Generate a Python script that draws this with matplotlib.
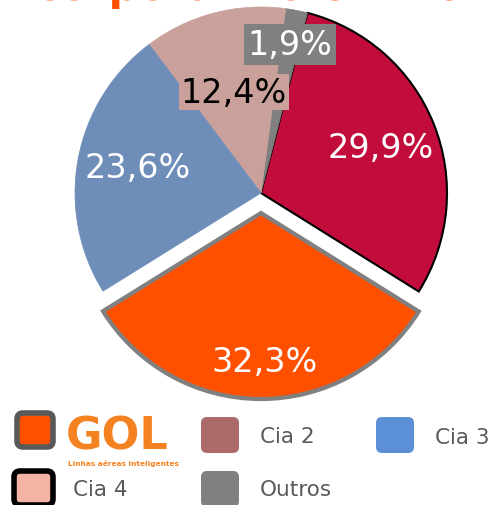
import matplotlib
matplotlib.use('Agg')
import matplotlib.pyplot as plt
from matplotlib.patches import FancyBboxPatch

# Slice data, counter-clockwise starting from GOL
labels = ['GOL', 'Cia 2', 'Outros', 'Cia 4', 'Cia 3']
shares = [32.3, 29.9, 1.9, 12.4, 23.6]
pie_colors = ['#FF5000', '#C20C3C', '#808080', '#C9A09A', '#6E8DB9']
edge_colors = ['#808080', '#000000', '#808080', '#C9A09A', '#6E8DB9']

# Legend entries
legend_names = ['GOL', 'Cia 2', 'Cia 3', 'Cia 4', 'Outros']
legend_colors = ['#FF5000', '#AD6A6A', '#5B8FD6', '#F4B4A4', '#808080']

W, H = 493, 506
fig = plt.figure(figsize=(W / 100, H / 100), dpi=100)
ax = fig.add_axes([0, 0, 1, 1])

cx, cy, r = 261, H - 194, 186
start = 270 - shares[0] / 100 * 360 / 2
wedges, _ = ax.pie(shares, colors=pie_colors, startangle=start, counterclock=True,
                   radius=r, center=(cx, cy), explode=[20, 0, 0, 0, 0])
ax.set_xlim(0, W)
ax.set_ylim(0, H)
ax.set_aspect('equal')
ax.axis('off')
for w, ec, lw in zip(wedges, edge_colors, [3, 1.5, 0.5, 0.5, 0.5]):
    w.set_edgecolor(ec)
    w.set_linewidth(lw)

# percentage labels
fs = 24
ax.text(381, H - 148, '29,9%', color='white', fontsize=fs, ha='center', va='center')
ax.text(265, H - 362, '32,3%', color='white', fontsize=fs, ha='center', va='center')
ax.text(138, H - 168, '23,6%', color='white', fontsize=fs, ha='center', va='center')
ax.text(234, H - 93, '12,4%', color='black', fontsize=fs, ha='center', va='center',
        bbox=dict(boxstyle='square,pad=0.05', fc='#C9A09A', ec='none'))
ax.text(290, H - 45, '1,9%', color='white', fontsize=fs, ha='center', va='center',
        bbox=dict(boxstyle='square,pad=0.12', fc='#808080', ec='none'))

# cut-off title at the top
ax.text(278, H, 'corporativo em 2010', color='#FF5000', fontsize=30,
        fontweight='bold', ha='center', va='baseline')

# legend
def box(x0, y0, w, h, fc, ec, lw):
    ax.add_patch(FancyBboxPatch((x0, H - y0 - h), w, h, boxstyle='round,pad=0,rounding_size=6',
                                fc=fc, ec=ec, lw=lw))

box(17, 414, 36, 34, legend_colors[0], '#595959', 4)
box(201, 418, 38, 36, legend_colors[1], 'none', 0)
box(376, 418, 38, 36, legend_colors[2], 'none', 0)
box(14, 472, 39, 34, legend_colors[3], '#000000', 4)
box(201, 472, 38, 36, legend_colors[4], 'none', 0)

# GOL logo drawn as text
ax.text(66, H - 450, 'GOL', color='#F58220', fontsize=32, fontweight='bold',
        ha='left', va='baseline')
ax.text(68, H - 466, 'Linhas aéreas inteligentes', color='#F58220', fontsize=5.3,
        fontweight='bold', ha='left', va='baseline')

tc = '#595959'
ax.text(260, H - 437, 'Cia 2', color=tc, fontsize=15.5, ha='left', va='center')
ax.text(435, H - 438, 'Cia 3', color=tc, fontsize=15.5, ha='left', va='center')
ax.text(73, H - 490, 'Cia 4', color=tc, fontsize=15.5, ha='left', va='center')
ax.text(260, H - 490, 'Outros', color=tc, fontsize=15.5, ha='left', va='center')

fig.savefig('out.png', dpi=100)
